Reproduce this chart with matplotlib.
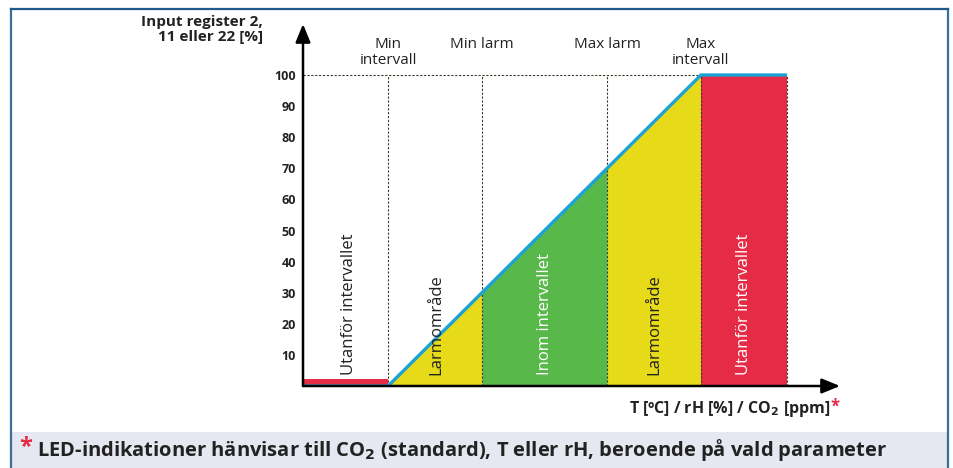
import matplotlib.pyplot as plt
from matplotlib.patches import Rectangle

# --- data ---
# x positions in percent along the output ramp (min intervall = 0, max intervall = 100)
x_left, x_min_int, x_min_larm, x_max_larm, x_max_int, x_right = -27.2, 0, 30, 70, 100, 127.5
ramp_x = [x_left, x_min_int, x_max_int, x_right]
ramp_y = [0, 0, 100, 100]
low_bar_height = 2.3
y_ticks = [10, 20, 30, 40, 50, 60, 70, 80, 90, 100]
top_labels = ["Min\nintervall", "Min larm", "Max larm", "Max\nintervall"]
top_label_x = [x_min_int, x_min_larm, x_max_larm, x_max_int]
zone_labels = ["Utanför intervallet", "Larmområde", "Inom intervallet", "Larmområde", "Utanför intervallet"]
zone_label_colors = ["#222222", "#222222", "white", "#222222", "white"]

YELLOW = "#e6da19"
GREEN = "#58b84a"
RED = "#e52b45"
BLUE = "#1ca3d6"

plt.rcParams['font.family'] = ['Open Sans', 'DejaVu Sans']

W, H = 954, 468
fig = plt.figure(figsize=(W / 100, H / 100), dpi=100)

# frame and bottom band
fig.patches.append(Rectangle((11 / W, 0), (948 - 11) / W, (468 - 432) / H, transform=fig.transFigure,
                             facecolor="#e5e7f1", edgecolor="none", zorder=0))
fig.add_artist(plt.Line2D([11 / W, 11 / W], [0, 1 - 9 / H], color="#3a6f99", lw=1.6, transform=fig.transFigure))
fig.add_artist(plt.Line2D([948 / W, 948 / W], [0, 1 - 9 / H], color="#3a6f99", lw=1.6, transform=fig.transFigure))
fig.add_artist(plt.Line2D([11 / W, 948 / W], [1 - 9 / H, 1 - 9 / H], color="#1f5a8a", lw=1.6, transform=fig.transFigure))

# axes positioned in pixels: y axis at x=303, 0 at y=386, 100 at y=75
px_per_x = (787 - 303) / (x_right - x_left)
px_per_y = (386 - 75) / 100
x_end = x_left + (840 - 303) / px_per_x
y_end = (386 - 24) / px_per_y
ax = fig.add_axes([303 / W, (H - 386) / H, (840 - 303) / W, (386 - 24) / H])
ax.set_xlim(x_left, x_end)
ax.set_ylim(0, y_end)
for s in ax.spines.values():
    s.set_visible(False)
ax.set_xticks([])
ax.set_yticks(y_ticks)
ax.set_yticklabels([str(v) for v in y_ticks], fontsize=9, fontweight="bold", color="#222222")
ax.tick_params(axis="y", length=0, pad=5)

# zones
ax.fill_between([x_min_int, x_min_larm], [0, 0], [x_min_int, x_min_larm], color=YELLOW, lw=0)
ax.fill_between([x_min_larm, x_max_larm], [0, 0], [x_min_larm, x_max_larm], color=GREEN, lw=0)
ax.fill_between([x_max_larm, x_max_int], [0, 0], [x_max_larm, x_max_int], color=YELLOW, lw=0)
ax.fill_between([x_max_int, x_right], [0, 0], [100, 100], color=RED, lw=0)
ax.fill_between([x_left, x_min_int], [0, 0], [low_bar_height, low_bar_height], color=RED, lw=0)

# dotted guides
dot = dict(color="#3a3a2a", lw=0.8, linestyle=(0, (2, 1.5)))
ax.plot([x_left, x_max_int], [100, 100], **dot)
for xv in [x_min_int, x_min_larm, x_max_larm, x_max_int, x_right]:
    ax.plot([xv, xv], [0, 100], zorder=2, **dot)

# ramp line
ax.plot(ramp_x, ramp_y, color=BLUE, lw=2.4, solid_capstyle="butt", zorder=3)

# axes arrows
ax.annotate("", xy=(x_end, 0), xytext=(x_left, 0),
            arrowprops=dict(arrowstyle="-|>,head_length=1.1,head_width=0.45", color="black", lw=1.8,
                            shrinkA=0, shrinkB=0), zorder=4)
ax.annotate("", xy=(x_left, y_end), xytext=(x_left, 0),
            arrowprops=dict(arrowstyle="-|>,head_length=1.1,head_width=0.45", color="black", lw=1.8,
                            shrinkA=0, shrinkB=0), zorder=4)

# zone labels
zone_x = [(x_left + x_min_int) / 2 + 1, (x_min_int + x_min_larm) / 2 + 0.5, (x_min_larm + x_max_larm) / 2,
          (x_max_larm + x_max_int) / 2, (x_max_int + x_right) / 2]
for xv, txt, c in zip(zone_x, zone_labels, zone_label_colors):
    ax.text(xv, 3.5, txt, rotation=90, ha="center", va="bottom", fontsize=12, color=c, zorder=5)

# top labels (first line aligned)
for xv, txt in zip(top_label_x, top_labels):
    ax.text(xv, (386 - 37) / px_per_y, txt, ha="center", va="top", fontsize=11, color="#222222",
            linespacing=1.05)

# axis titles
fig.text(263 / W, 1 - 15 / H, "Input register 2,\n11 eller 22 [%]", ha="right", va="top",
         fontsize=11, fontweight="bold", color="#222222", linespacing=1.05)
fig.text(830 / W, 1 - 409 / H, r"T [ºC] / rH [%] / CO$_\mathbf{2}$ [ppm]", ha="right", va="center",
         fontsize=11.5, fontweight="bold", color="#222222")
fig.text(830 / W, 1 - 407 / H, "*", ha="left", va="center", fontsize=12, fontweight="bold", color=RED)

# footnote
fig.text(19 / W, 1 - 447 / H, "*", ha="left", va="center", fontsize=17, fontweight="bold", color=RED)
fig.text(37 / W, 1 - 450 / H, r"LED-indikationer hänvisar till CO$_\mathbf{2}$ (standard), T eller rH, beroende på vald parameter",
         ha="left", va="center", fontsize=14.5, fontweight="bold", color="#222222")

fig.savefig("out.png", dpi=100)
